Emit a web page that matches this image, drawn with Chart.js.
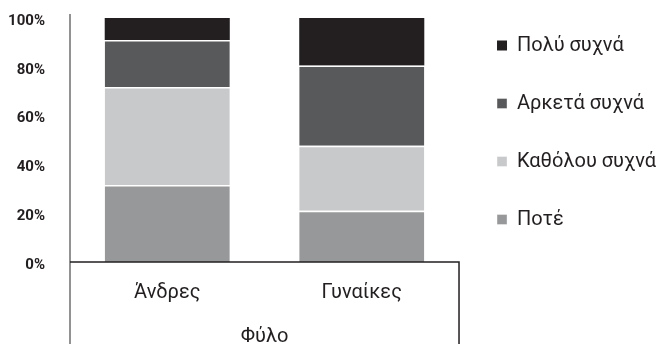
<!DOCTYPE html>
<html>
<head>
<meta charset="utf-8">
<script src="https://cdn.jsdelivr.net/npm/chart.js@4"></script>
<style>
  html, body { margin: 0; padding: 0; background: #fff; }
  #wrap { width: 664px; height: 344px; }
</style>
</head>
<body>
<div id="wrap"><canvas id="freqChart"></canvas></div>
<script>
// Categories and series (percent of each group)
const categories = ['Άνδρες', 'Γυναίκες'];
const seriesNames = ['Ποτέ', 'Καθόλου συχνά', 'Αρκετά συχνά', 'Πολύ συχνά'];
const never = [31.6, 21.0];
const notOften = [40.1, 26.6];
const quiteOften = [19.3, 32.9];
const veryOften = [9.0, 19.5];
const yTickValues = [0, 20, 40, 60, 80, 100];

const seriesColors = ['#979899', '#c8c9cb', '#58595b', '#231f20'];
const ink = '#231f20';

// axis line on the left and the open box under the bars
const frameLines = {
    id: 'frameLines',
    afterDatasetsDraw(chart) {
        const { ctx, chartArea: a } = chart;
        const h = chart.height;
        ctx.save();
        ctx.lineWidth = 1.5;
        ctx.strokeStyle = '#6d6e71';
        ctx.beginPath();
        ctx.moveTo(a.left, a.top - 4);
        ctx.lineTo(a.left, h);
        ctx.stroke();
        ctx.strokeStyle = ink;
        ctx.beginPath();
        ctx.moveTo(a.left, a.bottom);
        ctx.lineTo(a.right, a.bottom);
        ctx.lineTo(a.right, h);
        ctx.stroke();
        ctx.restore();
    }
};

const allSeries = [never, notOften, quiteOften, veryOften];
const datasets = allSeries.map((values, i) => ({
    label: seriesNames[i],
    data: values,
    backgroundColor: seriesColors[i],
    borderColor: '#ffffff',
    borderWidth: i === 3 ? 0 : { top: 1.5, right: 0, bottom: 0, left: 0 },
    borderSkipped: false,
    barPercentage: 0.643,
    categoryPercentage: 1
}));

new Chart(document.getElementById('freqChart'), {
    type: 'bar',
    data: { labels: categories, datasets: datasets },
    options: {
        responsive: true,
        maintainAspectRatio: false,
        animation: false,
        layout: { padding: { top: -2.5, right: -2, bottom: 0, left: 0 } },
        plugins: {
            tooltip: { enabled: false },
            legend: {
                position: 'right',
                align: 'start',
                reverse: true,
                maxWidth: 240,
                labels: {
                    color: ink,
                    font: { family: 'Roboto', size: 20 },
                    boxWidth: 10,
                    boxHeight: 10,
                    padding: 38
                }
            }
        },
        scales: {
            x: {
                stacked: true,
                grid: { display: false, drawTicks: false },
                border: { display: false },
                ticks: { color: ink, font: { family: 'Roboto', size: 20 }, padding: 19 },
                title: {
                    display: true,
                    text: 'Φύλο',
                    color: ink,
                    font: { family: 'Roboto', size: 20 },
                    padding: { top: 0, bottom: -5 }
                },
                afterFit: (scale) => { scale.height = 82; }
            },
            y: {
                stacked: true,
                min: 0,
                max: 100,
                grid: { display: false, drawTicks: true, tickLength: 25 },
                border: { display: false },
                afterBuildTicks: (scale) => { scale.ticks = yTickValues.map(v => ({ value: v })); },
                ticks: {
                    color: ink,
                    padding: 0,
                    labelOffset: 3,
                    font: { family: 'Roboto', size: 15, weight: 'bold', lineHeight: 2.4 },
                    callback: (v) => v + '%'
                },
                afterFit: (scale) => { scale.width = 70; }
            }
        }
    },
    plugins: [frameLines]
});
</script>
</body>
</html>
